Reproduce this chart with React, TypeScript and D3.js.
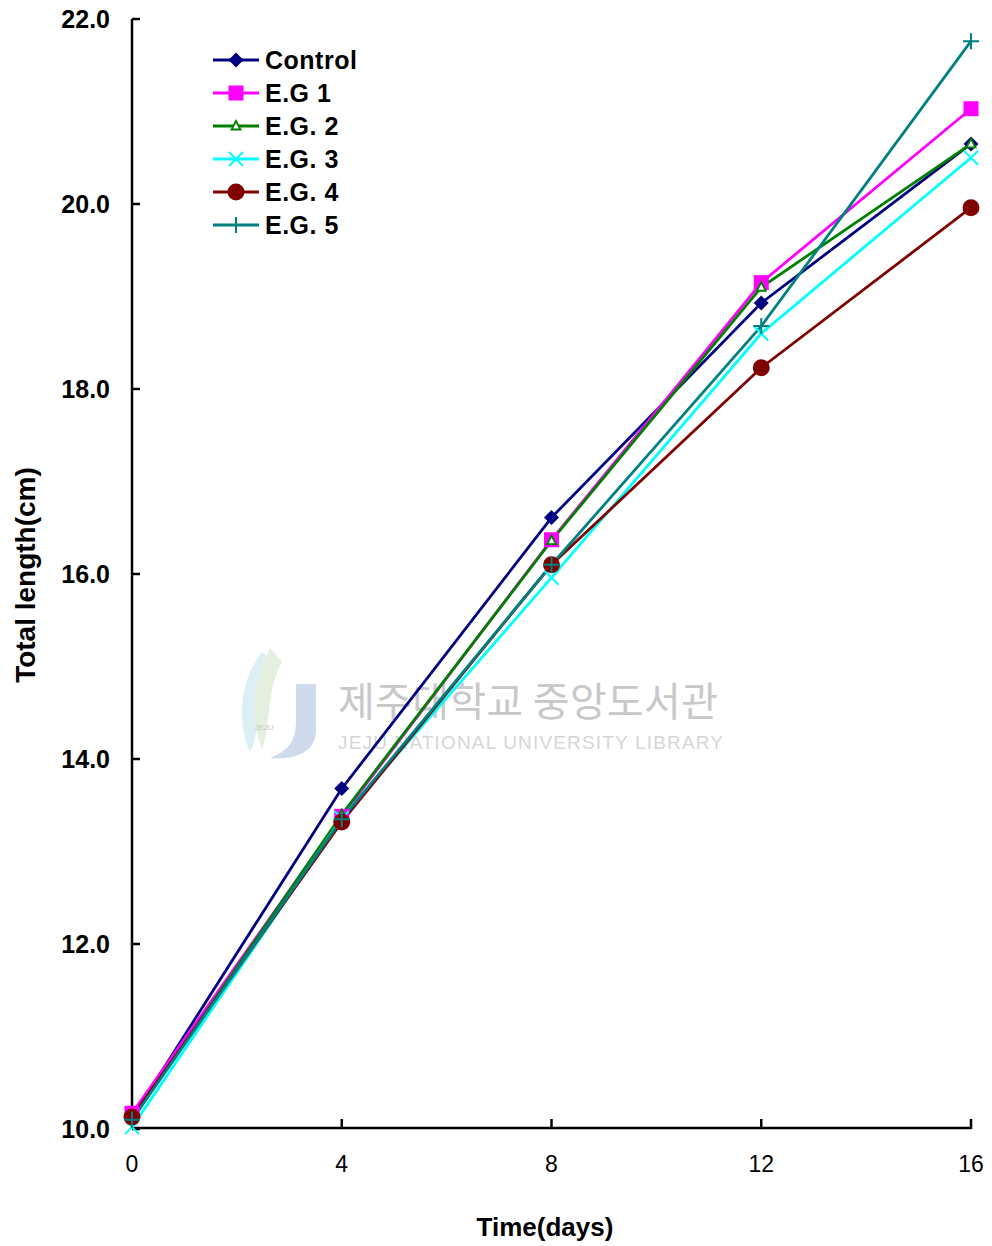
import React from "react";
import * as d3 from "d3";

const days = [0, 4, 8, 12, 16];
const seriesNames = ["Control", "E.G 1", "E.G. 2", "E.G. 3", "E.G. 4", "E.G. 5"];
const control = [10.12, 13.68, 16.61, 18.93, 20.65];
const eg1 = [10.17, 13.38, 16.37, 19.15, 21.03];
const eg2 = [10.1, 13.4, 16.36, 19.1, 20.65];
const eg3 = [10.02, 13.36, 15.96, 18.6, 20.5];
const eg4 = [10.13, 13.32, 16.1, 18.23, 19.96];
const eg5 = [10.1, 13.35, 16.1, 18.68, 21.76];
const yTicks = [10, 12, 14, 16, 18, 20, 22];
const xTicks = [0, 4, 8, 12, 16];

const colors = ["#000080", "#FF00FF", "#008000", "#00FFFF", "#800000", "#008080"];
const markers = ["diamond", "square", "triangle", "x", "circle", "plus"];
const allSeries = [control, eg1, eg2, eg3, eg4, eg5];

function Marker({ type, x, y, color }: { type: string; x: number; y: number; color: string }) {
  switch (type) {
    case "diamond":
      return <path d={`M${x},${y - 7.5}L${x + 7.5},${y}L${x},${y + 7.5}L${x - 7.5},${y}Z`} fill={color} />;
    case "square":
      return <rect x={x - 7.5} y={y - 7.5} width={15} height={15} fill={color} />;
    case "triangle":
      return <path d={`M${x},${y - 5}L${x + 4.5},${y + 3.5}L${x - 4.5},${y + 3.5}Z`} fill="#fff" stroke={color} strokeWidth={1.8} />;
    case "x":
      return <path d={`M${x - 7},${y - 7}L${x + 7},${y + 7}M${x + 7},${y - 7}L${x - 7},${y + 7}`} stroke={color} strokeWidth={2} />;
    case "circle":
      return <circle cx={x} cy={y} r={8.5} fill={color} />;
    case "plus":
      return <path d={`M${x - 8},${y}L${x + 8},${y}M${x},${y - 8}L${x},${y + 8}`} stroke={color} strokeWidth={2} />;
  }
  return null;
}

export default function App() {
  const x = d3.scaleLinear().domain([0, 16]).range([132, 971]);
  const y = d3.scaleLinear().domain([10, 22]).range([1129, 19]);
  const line = d3
    .line<number>()
    .x((_, i) => x(days[i]))
    .y((d) => y(d));
  const font = "Arial, 'Liberation Sans', sans-serif";

  return (
    <svg
      width={992}
      height={1246}
      style={{ position: "absolute", left: 0, top: 0, background: "#fff" }}
      fontFamily={font}
    >
      <rect width={992} height={1246} fill="#fff" />
      {/* watermark */}
      <g opacity={0.55}>
        <path d="M262,652 C240,680 236,720 250,752 C262,730 256,690 272,660 Z" fill="#bfe3ee" />
        <path d="M270,648 C250,690 252,720 262,750 C272,720 266,690 282,662 Z" fill="#cfe3c5" />
        <path d="M296,684 L316,684 L316,730 C316,752 296,760 270,758 C290,750 296,740 296,720 Z" fill="#a9bfdc" />
        <text x={264} y={730} fontSize={8} fill="#999" textAnchor="middle">JEJU</text>
      </g>
      <text x={338} y={716} fontSize={40} fill="#c8c8c8" fontFamily="'Noto Sans CJK KR', sans-serif" textLength={380}>
        제주대학교 중앙도서관
      </text>
      <text x={338} y={749} fontSize={19} fill="#d6d6d6" fontFamily={font} textLength={385}>
        JEJU NATIONAL UNIVERSITY  LIBRARY
      </text>

      {/* axes */}
      <line x1={132} x2={132} y1={19} y2={1129} stroke="#000" strokeWidth={2.5} />
      <line x1={132} x2={971} y1={1128} y2={1128} stroke="#000" strokeWidth={2.5} />
      {yTicks.map((t) => (
        <g key={t}>
          <line x1={132} x2={140} y1={y(t)} y2={y(t)} stroke="#000" strokeWidth={2.5} />
          <text x={110} y={y(t)} dy="0.36em" textAnchor="end" fontSize={25} fontWeight="bold">
            {t.toFixed(1)}
          </text>
        </g>
      ))}
      {xTicks.map((t) => (
        <g key={t}>
          <line x1={x(t)} x2={x(t)} y1={1129} y2={1119} stroke="#000" strokeWidth={2.5} />
          <text x={x(t)} y={1172} textAnchor="middle" fontSize={23}>
            {t}
          </text>
        </g>
      ))}
      <text x={545} y={1236} textAnchor="middle" fontSize={26} fontWeight="bold">
        Time(days)
      </text>
      <text
        transform="translate(35,575) rotate(-90)"
        textAnchor="middle"
        fontSize={28}
        fontWeight="bold"
      >
        Total length(cm)
      </text>

      {/* lines */}
      {allSeries.map((s, i) => (
        <path key={i} d={line(s) || ""} fill="none" stroke={colors[i]} strokeWidth={2.8} />
      ))}
      {allSeries.map((s, i) => (
        <g key={i}>
          {s.map((v, j) => (
            <Marker key={j} type={markers[i]} x={x(days[j])} y={y(v)} color={colors[i]} />
          ))}
        </g>
      ))}

      {/* legend */}
      {seriesNames.map((n, i) => {
        const ly = 60 + i * 33;
        return (
          <g key={n}>
            <line x1={213} x2={259} y1={ly} y2={ly} stroke={colors[i]} strokeWidth={2.8} />
            <Marker type={markers[i]} x={236} y={ly} color={colors[i]} />
            <text x={265} y={ly} dy="0.36em" fontSize={25} fontWeight="bold" letterSpacing={0.5}>
              {n}
            </text>
          </g>
        );
      })}
    </svg>
  );
}
